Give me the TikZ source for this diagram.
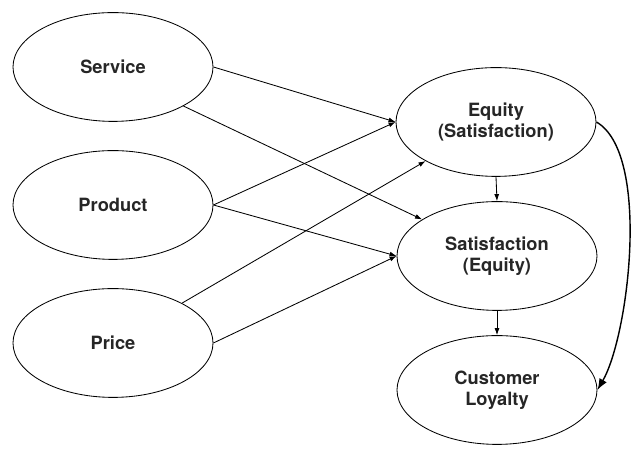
\documentclass[tikz,border=0pt]{standalone}
\usepackage{fontspec}
\setmainfont{TeX Gyre Heros}
\usetikzlibrary{shapes.geometric, arrows.meta}

\begin{document}
\begin{tikzpicture}[
    construct/.style={draw, ellipse, line width=0.6pt, minimum width=5cm, minimum height=2.72cm,
        inner sep=0pt, align=center, font=\fontsize{13}{15}\selectfont\bfseries, text=black!85},
    path/.style={-{Latex[length=5pt, width=3.5pt]}, line width=0.6pt}
]
\useasboundingbox (0,0) rectangle (15.9,11.3);
\node[construct] (service) at (2.825,9.625) {Service};
\node[construct] (product) at (2.825,6.175) {Product};
\node[construct] (price)   at (2.825,2.725) {Price};
\node[construct] (equity)  at (12.4,8.25)   {Equity\\(Satisfaction)};
\node[construct] (satis)   at (12.425,4.9)  {Satisfaction\\(Equity)};
\node[construct] (loyalty) at (12.425,1.55) {Customer\\Loyalty};
% antecedents
\draw[path] (service.east) -- (equity.west);
\draw[path] (service.-29) -- (satis.154);
\draw[path] (product.east) -- (equity.west);
\draw[path] (product.east) -- (satis.west);
\draw[path] (price.30) -- (equity.-151);
\draw[path] (price.east) -- (satis.west);
% chain
\draw[path] (equity.south) -- (satis.north);
\draw[path] (satis.south) -- (loyalty.north);
\draw[-{Latex[length=8pt, width=6pt]}, line width=1pt]
    (equity.east) to[out=-30, in=60, looseness=0.6] (loyalty.east);
\end{tikzpicture}
\end{document}
